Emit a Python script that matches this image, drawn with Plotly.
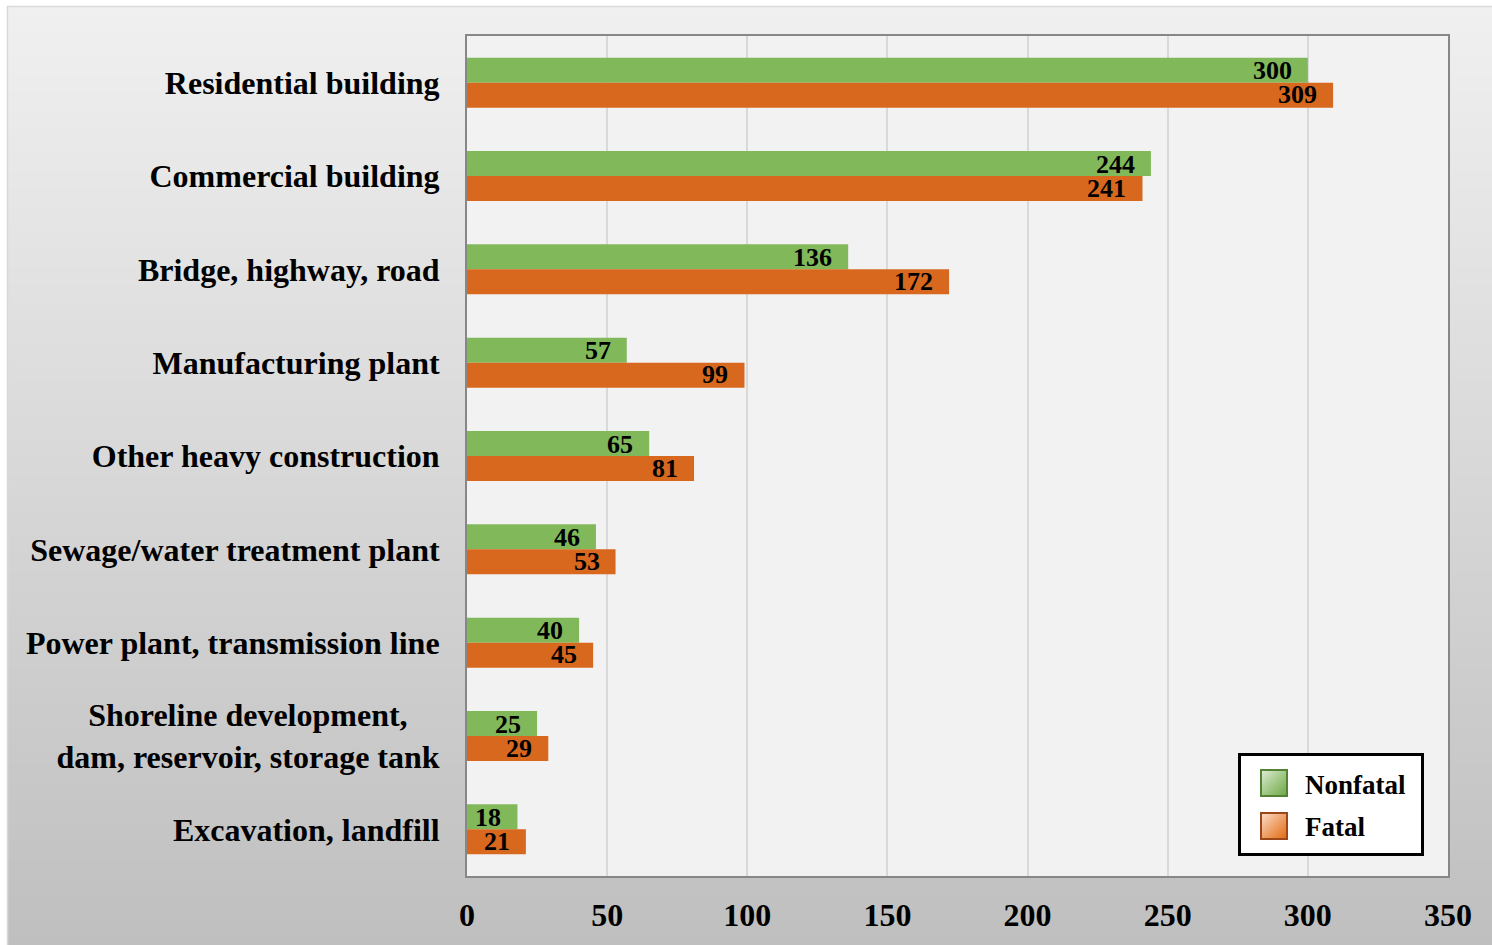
import base64
import struct
import zlib

import plotly.graph_objects as go

# ---- data -------------------------------------------------------------
categories = [
    "Residential building",
    "Commercial building",
    "Bridge, highway, road",
    "Manufacturing plant",
    "Other heavy construction",
    "Sewage/water treatment plant",
    "Power plant, transmission line",
    "Shoreline development,\u00a0\u00a0\u00a0\u00a0<br>dam, reservoir, storage tank",
    "Excavation, landfill",
]
nonfatal = [300, 244, 136, 57, 65, 46, 40, 25, 18]
fatal = [309, 241, 172, 99, 81, 53, 45, 29, 21]
x_ticks = [0, 50, 100, 150, 200, 250, 300, 350]

# ---- styling ----------------------------------------------------------
FONT = "Liberation Serif"
GREEN = "#80b85a"
ORANGE = "#d8681e"

W, H = 1492, 945
ML, MR, MT, MB = 467, 44, 36, 69
PW, PH = W - ML - MR, H - MT - MB


def px(x):
    """pixel column -> paper x"""
    return (x - ML) / PW


def py(y):
    """pixel row -> paper y"""
    return (H - MB - y) / PH


def png_uri(w, h, pix):
    rows = []
    for yy in range(h):
        row = bytearray([0])
        for xx in range(w):
            row.extend(pix(xx, yy))
        rows.append(bytes(row))
    raw = b"".join(rows)

    def chunk(tag, data):
        return (struct.pack(">I", len(data)) + tag + data
                + struct.pack(">I", zlib.crc32(tag + data) & 0xFFFFFFFF))

    png = (b"\x89PNG\r\n\x1a\n"
           + chunk(b"IHDR", struct.pack(">IIBBBBB", w, h, 8, 2, 0, 0, 0))
           + chunk(b"IDAT", zlib.compress(raw, 9))
           + chunk(b"IEND", b""))
    return "data:image/png;base64," + base64.b64encode(png).decode()


def hex_rgb(h):
    h = h.lstrip("#")
    return tuple(int(h[i:i + 2], 16) for i in (0, 2, 4))


def lerp(c1, c2, t):
    return tuple(int(round(a + (b - a) * t)) for a, b in zip(c1, c2))


# vertical grey gradient for the chart panel
bg_top, bg_bot = hex_rgb("#f0f0f0"), hex_rgb("#bfbfbf")
panel_img = png_uri(2, 256, lambda x, y: lerp(bg_top, bg_bot, y / 255))

# legend box with gradient swatches
LX0, LY0, LX1, LY1 = 1238, 753, 1424, 856
LW, LH = LX1 - LX0, LY1 - LY0
swatches = [
    (22, 16, hex_rgb("#e6f2de"), hex_rgb("#6aa641"), hex_rgb("#548235")),
    (22, 59, hex_rgb("#fde6d8"), hex_rgb("#e2680c"), hex_rgb("#9c461a")),
]
SW = 28


def legend_pix(x, y):
    if x < 3 or y < 3 or x >= LW - 3 or y >= LH - 3:
        return (0, 0, 0)
    for sx, sy, light, base, edge in swatches:
        if sx <= x < sx + SW and sy <= y < sy + SW:
            u, v = x - sx, y - sy
            if u < 2 or v < 2 or u >= SW - 2 or v >= SW - 2:
                return edge
            return lerp(light, base, ((u + v) / (2 * (SW - 1))) ** 0.9)
    return (255, 255, 255)


legend_img = png_uri(LW, LH, legend_pix)

# ---- figure -----------------------------------------------------------
fig = go.Figure()
fig.add_trace(go.Bar(name="Nonfatal", y=categories, x=nonfatal, orientation="h",
                     marker=dict(color=GREEN, line=dict(width=0)), showlegend=False))
fig.add_trace(go.Bar(name="Fatal", y=categories, x=fatal, orientation="h",
                     marker=dict(color=ORANGE, line=dict(width=0)), showlegend=False))

label_font = dict(family=FONT, size=26, color="black", weight="bold")
annotations = []
for series, shift in ((nonfatal, 12), (fatal, -12)):
    for cat, val in zip(categories, series):
        annotations.append(dict(x=val, y=cat, xref="x", yref="y", text=str(val),
                                showarrow=False, xanchor="right", yanchor="middle",
                                xshift=-14, yshift=shift, font=label_font))

leg_font = dict(family=FONT, size=27, color="black", weight="bold")
for text, cy in (("Nonfatal", 785), ("Fatal", 827)):
    annotations.append(dict(x=px(1303), y=py(cy), xref="paper", yref="paper", text=text,
                            showarrow=False, xanchor="left", yanchor="middle", font=leg_font))

fig.update_layout(
    width=W, height=H,
    margin=dict(l=ML, r=MR, t=MT, b=MB, pad=0),
    paper_bgcolor="white",
    plot_bgcolor="rgba(0,0,0,0)",
    barmode="group",
    bargap=0.464,
    bargroupgap=0,
    showlegend=False,
    images=[
        dict(source=panel_img, xref="paper", yref="paper", x=px(8), y=py(6.5),
             sizex=px(1500) - px(8), sizey=py(6.5) - py(950), xanchor="left",
             yanchor="top", sizing="stretch", layer="below"),
        dict(source=legend_img, xref="paper", yref="paper", x=px(LX0), y=py(LY0),
             sizex=px(LX1) - px(LX0), sizey=py(LY0) - py(LY1), xanchor="left",
             yanchor="top", sizing="stretch", layer="above"),
    ],
    shapes=[
        dict(type="rect", xref="paper", yref="paper", x0=px(7.5), x1=px(1520),
             y0=py(960), y1=py(6.5), line=dict(color="#d9d9d9", width=1.5),
             fillcolor="rgba(0,0,0,0)", layer="below"),
        dict(type="rect", xref="paper", yref="paper", x0=0, x1=1, y0=0, y1=1,
             line=dict(width=0), fillcolor="#f2f2f2", layer="below"),
    ],
    annotations=annotations,
)

fig.update_xaxes(
    range=[0, 350], tickvals=x_ticks, ticktext=[str(v) for v in x_ticks],
    showgrid=True, gridcolor="#d9d9d9", gridwidth=2,
    showline=True, linecolor="#878787", linewidth=2, mirror=True,
    zeroline=False, ticks="", ticklabelstandoff=10, automargin=False,
    tickfont=dict(family=FONT, size=32, color="black", weight="bold"),
)
fig.update_yaxes(
    autorange="reversed", showgrid=False,
    showline=True, linecolor="#878787", linewidth=2, mirror=True,
    ticks="", ticklabelstandoff=19, automargin=False,
    tickfont=dict(family=FONT, size=32, color="black", weight="bold"),
)

fig.write_html("out.html")
